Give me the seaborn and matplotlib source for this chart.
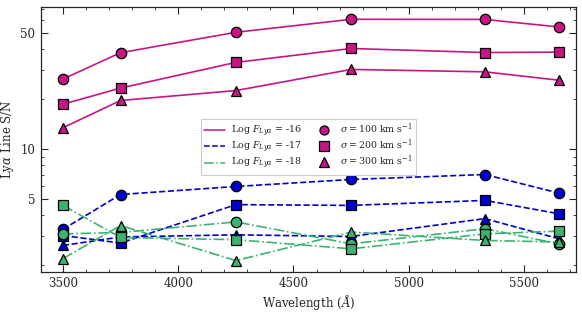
import numpy as np
import pandas as pd
import matplotlib
matplotlib.use("Agg")
import matplotlib.pyplot as plt
from matplotlib.lines import Line2D
import seaborn as sns

wavelengths = [3500, 3750, 4250, 4750, 5330, 5650]

# Log F = -16
f16_s100 = [26.5, 38.2, 50.7, 60.7, 60.6, 54.6]
f16_s200 = [18.7, 23.4, 33.4, 40.5, 38.3, 38.5]
f16_s300 = [13.5, 19.7, 22.6, 30.3, 29.3, 26.1]
# Log F = -17
f17_s100 = [3.30, 5.35, 5.98, 6.59, 7.06, 5.46]
f17_s200 = [3.03, 2.73, 4.65, 4.60, 4.93, 4.10]
f17_s300 = [2.64, 2.97, 3.06, 2.99, 3.83, 2.90]
# Log F = -18
f18_s100 = [3.10, 3.16, 3.66, 2.70, 3.33, 2.70]
f18_s200 = [4.60, 2.95, 2.86, 2.52, 3.10, 3.22]
f18_s300 = [2.20, 3.48, 2.14, 3.18, 2.83, 2.77]

fluxes = ["-16", "-17", "-18"]
sigmas = ["100", "200", "300"]
series = {
    ("-16", "100"): f16_s100, ("-16", "200"): f16_s200, ("-16", "300"): f16_s300,
    ("-17", "100"): f17_s100, ("-17", "200"): f17_s200, ("-17", "300"): f17_s300,
    ("-18", "100"): f18_s100, ("-18", "200"): f18_s200, ("-18", "300"): f18_s300,
}

rows = []
for (f, s), vals in series.items():
    for w, v in zip(wavelengths, vals):
        rows.append({"flux": f, "sigma": s, "wavelength": w, "sn": v})
df = pd.DataFrame(rows)

colors = {"-16": "#C71585", "-17": "#0000CD", "-18": "#3CB371"}
lstyles = {"-16": "-", "-17": "--", "-18": "-."}
markers = {"100": "o", "200": "s", "300": "^"}

sns.set_style("ticks")
plt.rcParams["font.family"] = ["DejaVu Serif"]
plt.rcParams["mathtext.fontset"] = "dejavuserif"

fig = plt.figure(figsize=(5.82, 3.12), dpi=100)
ax = fig.add_axes([0.0704, 0.1298, 0.9193, 0.8478])

for f in fluxes:
    for s in sigmas:
        sub = df[(df.flux == f) & (df.sigma == s)]
        sns.lineplot(data=sub, x="wavelength", y="sn", ax=ax, color=colors[f],
                     linestyle=lstyles[f], marker=markers[s], markersize=7.5,
                     markerfacecolor=colors[f], markeredgecolor="black",
                     markeredgewidth=0.9, linewidth=1.2, legend=False,
                     estimator=None, sort=False)

ax.set_yscale("log")
ax.set_xlim(3405, 5725)
ax.set_ylim(1.84, 72)
ax.set_yticks([5, 10, 50])
ax.set_yticklabels(["5", "10", "50"])
ax.set_yticks([2, 3, 4, 6, 7, 8, 9, 20, 30, 40, 60, 70], minor=True)
ax.set_yticklabels([], minor=True)
ax.set_xticks([3500, 4000, 4500, 5000, 5500])
ax.set_xticks(np.arange(3500, 5701, 100), minor=True)
ax.tick_params(which="both", direction="in", top=True, right=True, labelsize=8.5)
ax.tick_params(which="major", length=5, width=0.8, pad=4)
ax.tick_params(which="minor", length=2.5, width=0.6)
for sp in ax.spines.values():
    sp.set_linewidth(0.9)

ax.set_xlabel(r"Wavelength ($\AA$)", fontsize=8.5, labelpad=2)
ax.set_ylabel(r"Ly$\alpha$ Line S/N", fontsize=8.5, labelpad=3)

handles = []
labels = []
for f in fluxes:
    handles.append(Line2D([0], [0], color=colors[f], linestyle=lstyles[f], linewidth=1.1))
    labels.append(r"Log $F_{Ly\alpha}$ = " + f)
for s in sigmas:
    handles.append(Line2D([0], [0], color="none", marker=markers[s], markersize=6.5,
                          markerfacecolor=colors["-16"], markeredgecolor="black",
                          markeredgewidth=0.9))
    labels.append(r"$\sigma = $" + s + r" km s$^{-1}$")
leg = ax.legend(handles, labels, ncol=2, fontsize=6.8, loc="upper left",
                bbox_to_anchor=(0.290, 0.596), frameon=True, handlelength=2.2,
                columnspacing=1.2, labelspacing=0.12, borderpad=0.35,
                handletextpad=0.6, fancybox=False, framealpha=1.0)
leg.get_frame().set_edgecolor("#cccccc")
leg.get_frame().set_linewidth(0.8)

fig.savefig("out.png", dpi=100)
